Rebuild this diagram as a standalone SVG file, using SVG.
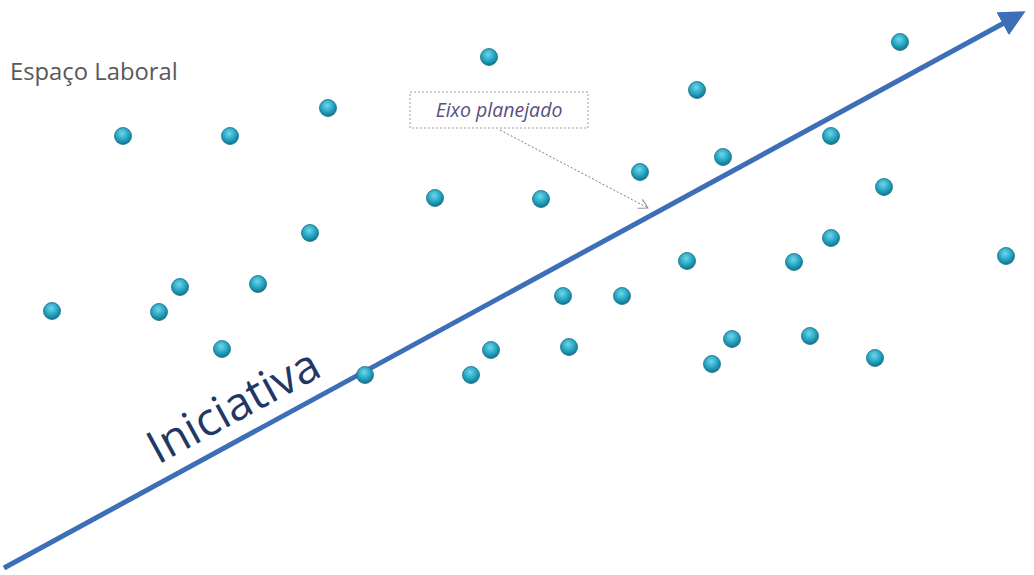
<svg xmlns="http://www.w3.org/2000/svg" width="1034" height="575" viewBox="0 0 1034 575">
<style>
.dot{fill:url(#g);stroke:#1b6f85;stroke-width:0.8}
.lbl{font-family:"Open Sans","Liberation Sans",sans-serif}
</style>
<defs>
<radialGradient id="g" cx="0.45" cy="0.35" r="0.65">
<stop offset="0" stop-color="#6fd6ea"/>
<stop offset="0.6" stop-color="#22a3c1"/>
<stop offset="1" stop-color="#146f88"/>
</radialGradient>
<marker id="big" markerWidth="6" markerHeight="6" refX="0.3" refY="2.6" orient="auto" markerUnits="strokeWidth">
<path d="M0,0 L5.2,2.6 L0,5.2 Z" fill="#3d6fb8"/>
</marker>
<marker id="open" markerWidth="12" markerHeight="12" refX="10" refY="6" orient="auto" markerUnits="userSpaceOnUse">
<path d="M1,1 L10,6 L1,11" fill="none" stroke="#8a8aa0" stroke-width="1"/>
</marker>
</defs>
<rect width="1034" height="575" fill="#ffffff"/>
<text class="lbl" x="10" y="80" font-size="23.8" fill="#595959">Espaço Laboral</text>
<g id="connectors">
<line x1="4" y1="568" x2="1004" y2="23" stroke="#3d6fb8" stroke-width="5" marker-end="url(#big)"/>
<line x1="500" y1="130" x2="648" y2="208" stroke="#7a7a90" stroke-width="1" stroke-dasharray="2,2" marker-end="url(#open)"/>
</g>
<g id="label-iniciativa">
<text class="lbl" x="0" y="0" font-size="46" fill="#1f3864" transform="translate(158,465) rotate(-28.5)">Iniciativa</text>
</g>
<g id="node-eixo">
<rect x="410" y="92" width="178" height="36" fill="#ffffff" stroke="#9a9aa8" stroke-width="1" stroke-dasharray="2,2"/>
<text class="lbl" x="499" y="117" font-size="19.5" font-style="italic" fill="#5b4f7d" text-anchor="middle">Eixo planejado</text>
</g>
<g id="dots">
<circle class="dot" cx="123" cy="136" r="8.5"/>
<circle class="dot" cx="230" cy="136" r="8.5"/>
<circle class="dot" cx="328" cy="108" r="8.5"/>
<circle class="dot" cx="489" cy="57" r="8.5"/>
<circle class="dot" cx="697" cy="90" r="8.5"/>
<circle class="dot" cx="900" cy="42" r="8.5"/>
<circle class="dot" cx="831" cy="136" r="8.5"/>
<circle class="dot" cx="723" cy="157" r="8.5"/>
<circle class="dot" cx="640" cy="172" r="8.5"/>
<circle class="dot" cx="435" cy="198" r="8.5"/>
<circle class="dot" cx="541" cy="199" r="8.5"/>
<circle class="dot" cx="884" cy="187" r="8.5"/>
<circle class="dot" cx="310" cy="233" r="8.5"/>
<circle class="dot" cx="831" cy="238" r="8.5"/>
<circle class="dot" cx="1006" cy="256" r="8.5"/>
<circle class="dot" cx="687" cy="261" r="8.5"/>
<circle class="dot" cx="794" cy="262" r="8.5"/>
<circle class="dot" cx="52" cy="311" r="8.5"/>
<circle class="dot" cx="180" cy="287" r="8.5"/>
<circle class="dot" cx="258" cy="284" r="8.5"/>
<circle class="dot" cx="159" cy="312" r="8.5"/>
<circle class="dot" cx="563" cy="296" r="8.5"/>
<circle class="dot" cx="622" cy="296" r="8.5"/>
<circle class="dot" cx="222" cy="349" r="8.5"/>
<circle class="dot" cx="491" cy="350" r="8.5"/>
<circle class="dot" cx="569" cy="347" r="8.5"/>
<circle class="dot" cx="732" cy="339" r="8.5"/>
<circle class="dot" cx="810" cy="336" r="8.5"/>
<circle class="dot" cx="712" cy="364" r="8.5"/>
<circle class="dot" cx="875" cy="358" r="8.5"/>
<circle class="dot" cx="471" cy="375" r="8.5"/>
<circle class="dot" cx="365" cy="375" r="8.5"/>
</g>
</svg>
